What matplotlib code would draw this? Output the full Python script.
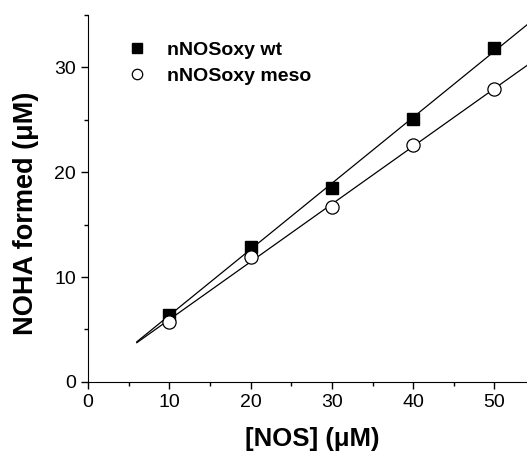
import numpy as np
import matplotlib
matplotlib.use('Agg')
import matplotlib.pyplot as plt
from matplotlib.ticker import MultipleLocator

plt.rcParams['font.family'] = ['Liberation Sans', 'DejaVu Sans']

# концентрация NOS и образовавшийся NOHA
nos = [10, 20, 30, 40, 50]
noha_wt = [6.4, 12.9, 18.5, 25.1, 31.8]
noha_meso = [5.7, 11.9, 16.7, 22.6, 27.9]
fit_start = 6

fig = plt.figure(figsize=(5.27, 4.53), dpi=100)
ax = fig.add_axes([0.167, 0.157, 0.833, 0.81])

# линейная аппроксимация
xs = np.array([fit_start, 60])
for y in (noha_wt, noha_meso):
    k, b = np.polyfit(nos, y, 1)
    ax.plot(xs, k * xs + b, color='black', lw=0.9, zorder=1)

ax.plot(nos, noha_wt, 's', color='black', ms=8, label='nNOSoxy wt', zorder=3)
ax.plot(nos, noha_meso, 'o', mfc='white', mec='black', mew=0.9, ms=9.5,
        label='nNOSoxy meso', zorder=3)

ax.set_xlim(0, 54)
ax.set_ylim(0, 35)
ax.xaxis.set_major_locator(MultipleLocator(10))
ax.xaxis.set_minor_locator(MultipleLocator(5))
ax.yaxis.set_major_locator(MultipleLocator(10))
ax.yaxis.set_minor_locator(MultipleLocator(5))
ax.tick_params(which='major', length=5, width=1, labelsize=14, direction='out')
ax.tick_params(which='minor', length=3, width=1, direction='out')
ax.spines['top'].set_visible(False)
ax.spines['right'].set_visible(False)

ax.set_xlabel('[NOS] (\u03bcM)', fontsize=18.5, fontweight='bold', labelpad=12, x=0.51)
ax.set_ylabel('NOHA formed (\u03bcM)', fontsize=19.5, fontweight='bold', labelpad=11, y=0.46)

leg = ax.legend(loc='upper left', bbox_to_anchor=(0.084, 0.929), frameon=False,
                prop={'size': 14, 'weight': 'bold'}, handletextpad=0.95,
                labelspacing=0.46, handlelength=1.2, borderpad=0, borderaxespad=0)
leg.legend_handles[0].set_markersize(7)
leg.legend_handles[1].set_markersize(7.5)

fig.savefig('out.png', dpi=100)
